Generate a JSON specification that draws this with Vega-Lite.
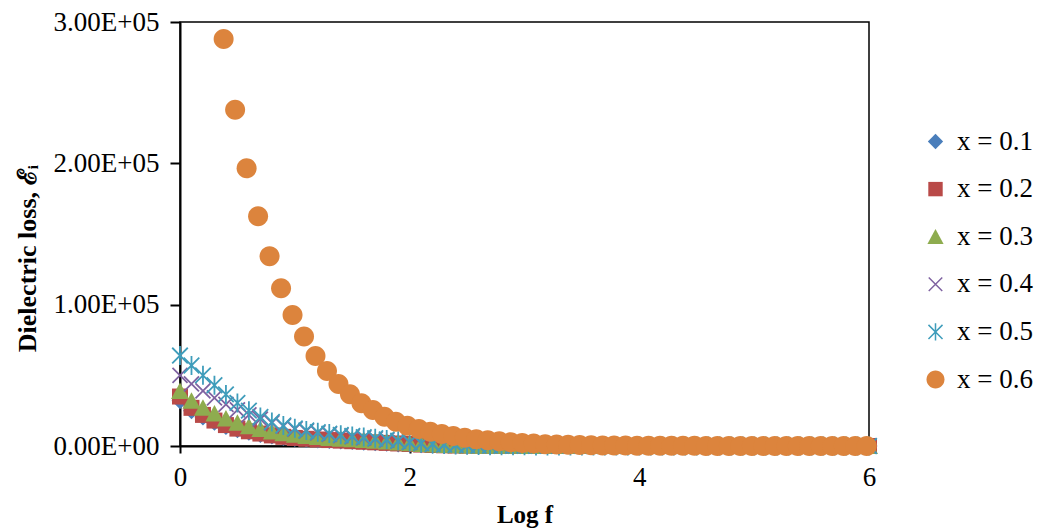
{
  "$schema": "https://vega.github.io/schema/vega-lite/v6.json",
  "autosize": {"type": "none"},
  "padding": {"left": 180, "top": 22, "right": 184, "bottom": 86},
  "width": 689,
  "height": 424,
  "background": "white",
  "config": {
    "font": "Liberation Serif",
    "view": {"stroke": "#000", "strokeWidth": 1.5},
    "axis": {"domainColor": "#000", "domainWidth": 2, "tickColor": "#000", "tickWidth": 2, "grid": false, "labelColor": "#000", "titleColor": "#000", "labelFont": "Liberation Serif", "titleFont": "Liberation Serif"},
    "legend": {"labelFont": "Liberation Serif", "labelFontSize": 27, "labelColor": "#000", "symbolSize": 324, "symbolStrokeWidth": 1.5, "rowPadding": 19.6, "labelOffset": 8, "padding": 0}
  },
  "data": {"values": [
    {"s":"x = 0.1","f":0,"v":32000},{"s":"x = 0.1","f":0.1,"v":25000},{"s":"x = 0.1","f":0.2,"v":20500},{"s":"x = 0.1","f":0.3,"v":16800},{"s":"x = 0.1","f":0.4,"v":13800},{"s":"x = 0.1","f":0.5,"v":11500},{"s":"x = 0.1","f":0.6,"v":9700},{"s":"x = 0.1","f":0.7,"v":8200},{"s":"x = 0.1","f":0.8,"v":7000},{"s":"x = 0.1","f":0.9,"v":6100},{"s":"x = 0.1","f":1,"v":5300},{"s":"x = 0.1","f":1.1,"v":4800},{"s":"x = 0.1","f":1.2,"v":4300},{"s":"x = 0.1","f":1.3,"v":3900},{"s":"x = 0.1","f":1.4,"v":3500},{"s":"x = 0.1","f":1.5,"v":3100},{"s":"x = 0.1","f":1.6,"v":2700},{"s":"x = 0.1","f":1.7,"v":2300},{"s":"x = 0.1","f":1.8,"v":1900},{"s":"x = 0.1","f":1.9,"v":1500},{"s":"x = 0.1","f":2,"v":1100},{"s":"x = 0.1","f":2.1,"v":800},{"s":"x = 0.1","f":2.2,"v":550},{"s":"x = 0.1","f":2.3,"v":400},{"s":"x = 0.1","f":2.4,"v":280},{"s":"x = 0.1","f":2.5,"v":200},{"s":"x = 0.1","f":2.6,"v":150},{"s":"x = 0.1","f":2.7,"v":110},{"s":"x = 0.1","f":2.8,"v":85},{"s":"x = 0.1","f":2.9,"v":70},{"s":"x = 0.1","f":3,"v":58},{"s":"x = 0.1","f":3.1,"v":50},{"s":"x = 0.1","f":3.2,"v":43},{"s":"x = 0.1","f":3.3,"v":38},{"s":"x = 0.1","f":3.4,"v":34},{"s":"x = 0.1","f":3.5,"v":30},{"s":"x = 0.1","f":3.6,"v":27},{"s":"x = 0.1","f":3.7,"v":24},{"s":"x = 0.1","f":3.8,"v":21},{"s":"x = 0.1","f":3.9,"v":19},{"s":"x = 0.1","f":4,"v":17},{"s":"x = 0.1","f":4.1,"v":15},{"s":"x = 0.1","f":4.2,"v":13},{"s":"x = 0.1","f":4.3,"v":12},{"s":"x = 0.1","f":4.4,"v":11},{"s":"x = 0.1","f":4.5,"v":10},{"s":"x = 0.1","f":4.6,"v":9},{"s":"x = 0.1","f":4.7,"v":9},{"s":"x = 0.1","f":4.8,"v":8},{"s":"x = 0.1","f":4.9,"v":8},{"s":"x = 0.1","f":5,"v":7},{"s":"x = 0.1","f":5.1,"v":7},{"s":"x = 0.1","f":5.2,"v":6},{"s":"x = 0.1","f":5.3,"v":6},{"s":"x = 0.1","f":5.4,"v":5},{"s":"x = 0.1","f":5.5,"v":5},{"s":"x = 0.1","f":5.6,"v":5},{"s":"x = 0.1","f":5.7,"v":4},{"s":"x = 0.1","f":5.8,"v":4},{"s":"x = 0.1","f":5.9,"v":4},{"s":"x = 0.1","f":6,"v":3},
    {"s":"x = 0.2","f":0,"v":35000},{"s":"x = 0.2","f":0.1,"v":27000},{"s":"x = 0.2","f":0.2,"v":22000},{"s":"x = 0.2","f":0.3,"v":18000},{"s":"x = 0.2","f":0.4,"v":14800},{"s":"x = 0.2","f":0.5,"v":12300},{"s":"x = 0.2","f":0.6,"v":10400},{"s":"x = 0.2","f":0.7,"v":8800},{"s":"x = 0.2","f":0.8,"v":7500},{"s":"x = 0.2","f":0.9,"v":6500},{"s":"x = 0.2","f":1,"v":5700},{"s":"x = 0.2","f":1.1,"v":5100},{"s":"x = 0.2","f":1.2,"v":4600},{"s":"x = 0.2","f":1.3,"v":4200},{"s":"x = 0.2","f":1.4,"v":3800},{"s":"x = 0.2","f":1.5,"v":3400},{"s":"x = 0.2","f":1.6,"v":3000},{"s":"x = 0.2","f":1.7,"v":2600},{"s":"x = 0.2","f":1.8,"v":2200},{"s":"x = 0.2","f":1.9,"v":1800},{"s":"x = 0.2","f":2,"v":1400},{"s":"x = 0.2","f":2.1,"v":1000},{"s":"x = 0.2","f":2.2,"v":700},{"s":"x = 0.2","f":2.3,"v":500},{"s":"x = 0.2","f":2.4,"v":350},{"s":"x = 0.2","f":2.5,"v":250},{"s":"x = 0.2","f":2.6,"v":180},{"s":"x = 0.2","f":2.7,"v":130},{"s":"x = 0.2","f":2.8,"v":100},{"s":"x = 0.2","f":2.9,"v":80},{"s":"x = 0.2","f":3,"v":65},{"s":"x = 0.2","f":3.1,"v":55},{"s":"x = 0.2","f":3.2,"v":47},{"s":"x = 0.2","f":3.3,"v":41},{"s":"x = 0.2","f":3.4,"v":36},{"s":"x = 0.2","f":3.5,"v":32},{"s":"x = 0.2","f":3.6,"v":28},{"s":"x = 0.2","f":3.7,"v":25},{"s":"x = 0.2","f":3.8,"v":22},{"s":"x = 0.2","f":3.9,"v":20},{"s":"x = 0.2","f":4,"v":18},{"s":"x = 0.2","f":4.1,"v":16},{"s":"x = 0.2","f":4.2,"v":14},{"s":"x = 0.2","f":4.3,"v":13},{"s":"x = 0.2","f":4.4,"v":12},{"s":"x = 0.2","f":4.5,"v":11},{"s":"x = 0.2","f":4.6,"v":10},{"s":"x = 0.2","f":4.7,"v":9},{"s":"x = 0.2","f":4.8,"v":9},{"s":"x = 0.2","f":4.9,"v":8},{"s":"x = 0.2","f":5,"v":8},{"s":"x = 0.2","f":5.1,"v":7},{"s":"x = 0.2","f":5.2,"v":7},{"s":"x = 0.2","f":5.3,"v":6},{"s":"x = 0.2","f":5.4,"v":6},{"s":"x = 0.2","f":5.5,"v":5},{"s":"x = 0.2","f":5.6,"v":5},{"s":"x = 0.2","f":5.7,"v":4},{"s":"x = 0.2","f":5.8,"v":4},{"s":"x = 0.2","f":5.9,"v":4},{"s":"x = 0.2","f":6,"v":4},
    {"s":"x = 0.3","f":0,"v":39000},{"s":"x = 0.3","f":0.1,"v":32000},{"s":"x = 0.3","f":0.2,"v":27000},{"s":"x = 0.3","f":0.3,"v":23000},{"s":"x = 0.3","f":0.4,"v":19500},{"s":"x = 0.3","f":0.5,"v":16500},{"s":"x = 0.3","f":0.6,"v":14000},{"s":"x = 0.3","f":0.7,"v":12000},{"s":"x = 0.3","f":0.8,"v":10300},{"s":"x = 0.3","f":0.9,"v":9000},{"s":"x = 0.3","f":1,"v":7900},{"s":"x = 0.3","f":1.1,"v":7000},{"s":"x = 0.3","f":1.2,"v":6300},{"s":"x = 0.3","f":1.3,"v":5700},{"s":"x = 0.3","f":1.4,"v":5200},{"s":"x = 0.3","f":1.5,"v":4700},{"s":"x = 0.3","f":1.6,"v":4200},{"s":"x = 0.3","f":1.7,"v":3700},{"s":"x = 0.3","f":1.8,"v":3100},{"s":"x = 0.3","f":1.9,"v":2500},{"s":"x = 0.3","f":2,"v":1900},{"s":"x = 0.3","f":2.1,"v":1400},{"s":"x = 0.3","f":2.2,"v":1000},{"s":"x = 0.3","f":2.3,"v":700},{"s":"x = 0.3","f":2.4,"v":500},{"s":"x = 0.3","f":2.5,"v":350},{"s":"x = 0.3","f":2.6,"v":250},{"s":"x = 0.3","f":2.7,"v":180},{"s":"x = 0.3","f":2.8,"v":130},{"s":"x = 0.3","f":2.9,"v":100},{"s":"x = 0.3","f":3,"v":80},{"s":"x = 0.3","f":3.1,"v":68},{"s":"x = 0.3","f":3.2,"v":58},{"s":"x = 0.3","f":3.3,"v":50},{"s":"x = 0.3","f":3.4,"v":44},{"s":"x = 0.3","f":3.5,"v":38},{"s":"x = 0.3","f":3.6,"v":34},{"s":"x = 0.3","f":3.7,"v":30},{"s":"x = 0.3","f":3.8,"v":27},{"s":"x = 0.3","f":3.9,"v":24},{"s":"x = 0.3","f":4,"v":21},{"s":"x = 0.3","f":4.1,"v":19},{"s":"x = 0.3","f":4.2,"v":17},{"s":"x = 0.3","f":4.3,"v":15},{"s":"x = 0.3","f":4.4,"v":14},{"s":"x = 0.3","f":4.5,"v":13},{"s":"x = 0.3","f":4.6,"v":12},{"s":"x = 0.3","f":4.7,"v":11},{"s":"x = 0.3","f":4.8,"v":10},{"s":"x = 0.3","f":4.9,"v":9},{"s":"x = 0.3","f":5,"v":9},{"s":"x = 0.3","f":5.1,"v":8},{"s":"x = 0.3","f":5.2,"v":8},{"s":"x = 0.3","f":5.3,"v":7},{"s":"x = 0.3","f":5.4,"v":7},{"s":"x = 0.3","f":5.5,"v":6},{"s":"x = 0.3","f":5.6,"v":6},{"s":"x = 0.3","f":5.7,"v":5},{"s":"x = 0.3","f":5.8,"v":5},{"s":"x = 0.3","f":5.9,"v":4},{"s":"x = 0.3","f":6,"v":4},
    {"s":"x = 0.4","f":0,"v":50000},{"s":"x = 0.4","f":0.1,"v":44000},{"s":"x = 0.4","f":0.2,"v":39000},{"s":"x = 0.4","f":0.3,"v":34000},{"s":"x = 0.4","f":0.4,"v":29500},{"s":"x = 0.4","f":0.5,"v":25500},{"s":"x = 0.4","f":0.6,"v":22000},{"s":"x = 0.4","f":0.7,"v":19000},{"s":"x = 0.4","f":0.8,"v":16300},{"s":"x = 0.4","f":0.9,"v":14000},{"s":"x = 0.4","f":1,"v":12000},{"s":"x = 0.4","f":1.1,"v":10500},{"s":"x = 0.4","f":1.2,"v":9300},{"s":"x = 0.4","f":1.3,"v":8300},{"s":"x = 0.4","f":1.4,"v":7400},{"s":"x = 0.4","f":1.5,"v":6600},{"s":"x = 0.4","f":1.6,"v":5800},{"s":"x = 0.4","f":1.7,"v":5000},{"s":"x = 0.4","f":1.8,"v":4200},{"s":"x = 0.4","f":1.9,"v":3400},{"s":"x = 0.4","f":2,"v":2600},{"s":"x = 0.4","f":2.1,"v":1900},{"s":"x = 0.4","f":2.2,"v":1300},{"s":"x = 0.4","f":2.3,"v":900},{"s":"x = 0.4","f":2.4,"v":600},{"s":"x = 0.4","f":2.5,"v":400},{"s":"x = 0.4","f":2.6,"v":280},{"s":"x = 0.4","f":2.7,"v":200},{"s":"x = 0.4","f":2.8,"v":150},{"s":"x = 0.4","f":2.9,"v":110},{"s":"x = 0.4","f":3,"v":90},{"s":"x = 0.4","f":3.1,"v":75},{"s":"x = 0.4","f":3.2,"v":64},{"s":"x = 0.4","f":3.3,"v":55},{"s":"x = 0.4","f":3.4,"v":48},{"s":"x = 0.4","f":3.5,"v":42},{"s":"x = 0.4","f":3.6,"v":37},{"s":"x = 0.4","f":3.7,"v":33},{"s":"x = 0.4","f":3.8,"v":29},{"s":"x = 0.4","f":3.9,"v":26},{"s":"x = 0.4","f":4,"v":23},{"s":"x = 0.4","f":4.1,"v":20},{"s":"x = 0.4","f":4.2,"v":18},{"s":"x = 0.4","f":4.3,"v":16},{"s":"x = 0.4","f":4.4,"v":14},{"s":"x = 0.4","f":4.5,"v":13},{"s":"x = 0.4","f":4.6,"v":12},{"s":"x = 0.4","f":4.7,"v":11},{"s":"x = 0.4","f":4.8,"v":10},{"s":"x = 0.4","f":4.9,"v":9},{"s":"x = 0.4","f":5,"v":8},{"s":"x = 0.4","f":5.1,"v":8},{"s":"x = 0.4","f":5.2,"v":7},{"s":"x = 0.4","f":5.3,"v":7},{"s":"x = 0.4","f":5.4,"v":6},{"s":"x = 0.4","f":5.5,"v":6},{"s":"x = 0.4","f":5.6,"v":5},{"s":"x = 0.4","f":5.7,"v":5},{"s":"x = 0.4","f":5.8,"v":4},{"s":"x = 0.4","f":5.9,"v":4},{"s":"x = 0.4","f":6,"v":4},
    {"s":"x = 0.5","f":0,"v":64000},{"s":"x = 0.5","f":0.1,"v":57000},{"s":"x = 0.5","f":0.2,"v":50000},{"s":"x = 0.5","f":0.3,"v":43000},{"s":"x = 0.5","f":0.4,"v":36500},{"s":"x = 0.5","f":0.5,"v":30500},{"s":"x = 0.5","f":0.6,"v":25000},{"s":"x = 0.5","f":0.7,"v":20500},{"s":"x = 0.5","f":0.8,"v":17000},{"s":"x = 0.5","f":0.9,"v":14500},{"s":"x = 0.5","f":1,"v":12500},{"s":"x = 0.5","f":1.1,"v":11000},{"s":"x = 0.5","f":1.2,"v":9800},{"s":"x = 0.5","f":1.3,"v":8800},{"s":"x = 0.5","f":1.4,"v":7900},{"s":"x = 0.5","f":1.5,"v":7100},{"s":"x = 0.5","f":1.6,"v":6300},{"s":"x = 0.5","f":1.7,"v":5500},{"s":"x = 0.5","f":1.8,"v":4600},{"s":"x = 0.5","f":1.9,"v":3700},{"s":"x = 0.5","f":2,"v":2800},{"s":"x = 0.5","f":2.1,"v":2000},{"s":"x = 0.5","f":2.2,"v":1400},{"s":"x = 0.5","f":2.3,"v":1000},{"s":"x = 0.5","f":2.4,"v":700},{"s":"x = 0.5","f":2.5,"v":500},{"s":"x = 0.5","f":2.6,"v":350},{"s":"x = 0.5","f":2.7,"v":250},{"s":"x = 0.5","f":2.8,"v":180},{"s":"x = 0.5","f":2.9,"v":130},{"s":"x = 0.5","f":3,"v":100},{"s":"x = 0.5","f":3.1,"v":85},{"s":"x = 0.5","f":3.2,"v":72},{"s":"x = 0.5","f":3.3,"v":62},{"s":"x = 0.5","f":3.4,"v":54},{"s":"x = 0.5","f":3.5,"v":47},{"s":"x = 0.5","f":3.6,"v":41},{"s":"x = 0.5","f":3.7,"v":36},{"s":"x = 0.5","f":3.8,"v":32},{"s":"x = 0.5","f":3.9,"v":28},{"s":"x = 0.5","f":4,"v":25},{"s":"x = 0.5","f":4.1,"v":22},{"s":"x = 0.5","f":4.2,"v":20},{"s":"x = 0.5","f":4.3,"v":18},{"s":"x = 0.5","f":4.4,"v":16},{"s":"x = 0.5","f":4.5,"v":14},{"s":"x = 0.5","f":4.6,"v":13},{"s":"x = 0.5","f":4.7,"v":12},{"s":"x = 0.5","f":4.8,"v":11},{"s":"x = 0.5","f":4.9,"v":10},{"s":"x = 0.5","f":5,"v":9},{"s":"x = 0.5","f":5.1,"v":8},{"s":"x = 0.5","f":5.2,"v":8},{"s":"x = 0.5","f":5.3,"v":7},{"s":"x = 0.5","f":5.4,"v":7},{"s":"x = 0.5","f":5.5,"v":6},{"s":"x = 0.5","f":5.6,"v":6},{"s":"x = 0.5","f":5.7,"v":5},{"s":"x = 0.5","f":5.8,"v":5},{"s":"x = 0.5","f":5.9,"v":4},{"s":"x = 0.5","f":6,"v":4},
    {"s":"x = 0.6","f":0.38,"v":288000},{"s":"x = 0.6","f":0.48,"v":238000},{"s":"x = 0.6","f":0.58,"v":196500},{"s":"x = 0.6","f":0.68,"v":162600},{"s":"x = 0.6","f":0.78,"v":134300},{"s":"x = 0.6","f":0.88,"v":111600},{"s":"x = 0.6","f":0.98,"v":92700},{"s":"x = 0.6","f":1.08,"v":77400},{"s":"x = 0.6","f":1.18,"v":63700},{"s":"x = 0.6","f":1.28,"v":53100},{"s":"x = 0.6","f":1.38,"v":43900},{"s":"x = 0.6","f":1.48,"v":36600},{"s":"x = 0.6","f":1.58,"v":30200},{"s":"x = 0.6","f":1.68,"v":25500},{"s":"x = 0.6","f":1.78,"v":20700},{"s":"x = 0.6","f":1.88,"v":17200},{"s":"x = 0.6","f":1.98,"v":14300},{"s":"x = 0.6","f":2.08,"v":12000},{"s":"x = 0.6","f":2.18,"v":10100},{"s":"x = 0.6","f":2.28,"v":8500},{"s":"x = 0.6","f":2.38,"v":7100},{"s":"x = 0.6","f":2.48,"v":5900},{"s":"x = 0.6","f":2.58,"v":4800},{"s":"x = 0.6","f":2.68,"v":4000},{"s":"x = 0.6","f":2.78,"v":3300},{"s":"x = 0.6","f":2.88,"v":2700},{"s":"x = 0.6","f":2.98,"v":2200},{"s":"x = 0.6","f":3.08,"v":1700},{"s":"x = 0.6","f":3.18,"v":1300},{"s":"x = 0.6","f":3.28,"v":1000},{"s":"x = 0.6","f":3.38,"v":800},{"s":"x = 0.6","f":3.48,"v":650},{"s":"x = 0.6","f":3.58,"v":520},{"s":"x = 0.6","f":3.68,"v":420},{"s":"x = 0.6","f":3.78,"v":340},{"s":"x = 0.6","f":3.88,"v":280},{"s":"x = 0.6","f":3.98,"v":230},{"s":"x = 0.6","f":4.08,"v":190},{"s":"x = 0.6","f":4.18,"v":160},{"s":"x = 0.6","f":4.28,"v":130},{"s":"x = 0.6","f":4.38,"v":110},{"s":"x = 0.6","f":4.48,"v":95},{"s":"x = 0.6","f":4.58,"v":80},{"s":"x = 0.6","f":4.68,"v":70},{"s":"x = 0.6","f":4.78,"v":60},{"s":"x = 0.6","f":4.88,"v":52},{"s":"x = 0.6","f":4.98,"v":46},{"s":"x = 0.6","f":5.08,"v":41},{"s":"x = 0.6","f":5.18,"v":37},{"s":"x = 0.6","f":5.28,"v":34},{"s":"x = 0.6","f":5.38,"v":31},{"s":"x = 0.6","f":5.48,"v":29},{"s":"x = 0.6","f":5.58,"v":27},{"s":"x = 0.6","f":5.68,"v":25},{"s":"x = 0.6","f":5.78,"v":23},{"s":"x = 0.6","f":5.88,"v":22},{"s":"x = 0.6","f":5.98,"v":21}
  ]},
  "mark": {"type": "point", "size": 400, "strokeWidth": 1.8, "opacity": 1},
  "encoding": {
    "x": {"field": "f", "type": "quantitative", "scale": {"domain": [0, 6], "nice": false, "zero": false},
      "axis": {"values": [0, 2, 4, 6], "title": "Log f", "titleFontSize": 25, "titleFontWeight": "bold", "labelFontSize": 27, "tickSize": 7, "labelPadding": 11, "titlePadding": 12, "labelFlush": false}},
    "y": {"field": "v", "type": "quantitative", "scale": {"domain": [0, 300000], "nice": false},
      "axis": {"values": [0, 100000, 200000, 300000], "title": "Dielectric loss, ℰᵢ", "titleFontSize": 26, "titleFontWeight": "bold", "titleY": 236, "labelFontSize": 27, "tickSize": 10, "labelPadding": 11, "titlePadding": 13, "labelFlush": false,
        "labelExpr": "datum.value === 0 ? '0.00E+00' : format(datum.value / 100000, '.2f') + 'E+05'"}},
    "shape": {"field": "s", "type": "nominal",
      "scale": {"domain": ["x = 0.1", "x = 0.2", "x = 0.3", "x = 0.4", "x = 0.5", "x = 0.6"],
        "range": ["M0,-0.85L0.85,0L0,0.85L-0.85,0Z", "M-0.8,-0.8L0.8,-0.8L0.8,0.8L-0.8,0.8Z", "M0,-0.85L0.9,0.8L-0.9,0.8Z", "M-0.75,-0.75L0.75,0.75M-0.75,0.75L0.75,-0.75", "M-0.78,-0.78L0.78,0.78M-0.78,0.78L0.78,-0.78M0,-0.95L0,0.95", "M1,0A1,1 0 1,1 -1,0A1,1 0 1,1 1,0Z"]},
      "legend": {"title": null, "orient": "none", "legendX": 742, "legendY": 106}},
    "fill": {"field": "s", "type": "nominal",
      "scale": {"domain": ["x = 0.1", "x = 0.2", "x = 0.3", "x = 0.4", "x = 0.5", "x = 0.6"],
        "range": ["#4a7ebb", "#b94a48", "#8eac4f", "transparent", "transparent", "#dc843d"]},
      "legend": {"title": null, "orient": "none", "legendX": 742, "legendY": 106}},
    "stroke": {"field": "s", "type": "nominal",
      "scale": {"domain": ["x = 0.1", "x = 0.2", "x = 0.3", "x = 0.4", "x = 0.5", "x = 0.6"],
        "range": ["transparent", "transparent", "transparent", "#7f62a1", "#3f9dbb", "transparent"]},
      "legend": {"title": null, "orient": "none", "legendX": 742, "legendY": 106}}
  }
}
